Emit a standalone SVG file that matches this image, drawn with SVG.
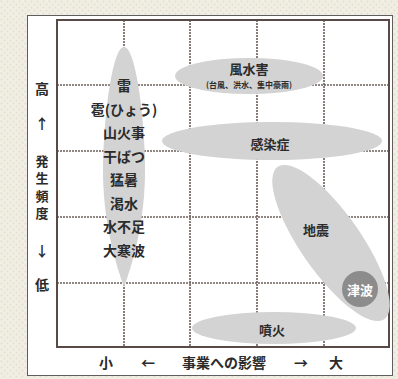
<svg xmlns="http://www.w3.org/2000/svg" width="398" height="379" viewBox="0 0 398 379">
<defs>
<pattern id="dots" width="6" height="6" patternUnits="userSpaceOnUse">
<rect width="6" height="6" fill="#f1eee3"/>
<circle cx="1.5" cy="1.5" r="1" fill="#e4e0d0"/>
<circle cx="4.5" cy="4.5" r="1" fill="#e4e0d0"/>
</pattern>
<style>
.grid{stroke:#6b5d58;stroke-width:1.6;stroke-dasharray:2 1;fill:none}
.blob{fill:#d3d3d3}
.t{font-family:"Noto Sans CJK JP","Noto Sans CJK SC",sans-serif;font-weight:bold;fill:#2b2b2b;text-anchor:middle;dominant-baseline:central}
.s14{font-size:14px}
.s13{font-size:13px}
.v{font-size:13px}
</style>
</defs>
<rect width="398" height="379" fill="url(#dots)"/>
<rect x="27.5" y="15.5" width="365" height="360" fill="#ffffff" stroke="#5e5e5e" stroke-width="1"/>
<g id="grid">
<path class="grid" d="M124,20V347M190,20V347M257,20V347M324,20V347M57,85H389M57,151H389M57,217H389M57,283H389"/>
</g>
<rect x="57" y="20" width="332" height="327" fill="none" stroke="#5a4a47" stroke-width="2"/>
<g id="weather">
<path class="blob" d="M124,47 C113,47 104,110 103,165 C102,222 117,268 124,287 C131,268 146,222 145,165 C144,110 135,47 124,47 Z"/>
<text class="t s14" x="124" y="85">雷</text>
<text class="t s14" x="124" y="108.5">雹(ひょう)</text>
<text class="t s14" x="124" y="132">山火事</text>
<text class="t s14" x="124" y="155.5">干ばつ</text>
<text class="t s14" x="124" y="179">猛暑</text>
<text class="t s14" x="124" y="202.5">渇水</text>
<text class="t s14" x="124" y="226">水不足</text>
<text class="t s14" x="124" y="249.5">大寒波</text>
</g>
<g id="fusuigai">
<ellipse class="blob" cx="249" cy="76" rx="74" ry="18"/>
<text class="t s13" x="249" y="68">風水害</text>
<text class="t" x="249" y="84" font-size="8">(台風、洪水、集中豪雨)</text>
</g>
<g id="kansensho">
<ellipse class="blob" cx="272" cy="141" rx="110" ry="19"/>
<text class="t s13" x="270" y="143">感染症</text>
</g>
<g id="jishin">
<ellipse class="blob" cx="331" cy="243" rx="93" ry="30" transform="rotate(55 331 243)"/>
<text class="t s13" x="316" y="229">地震</text>
</g>
<g id="tsunami">
<circle cx="360" cy="289" r="18" fill="#8c8c8c"/>
<text class="t s13" x="360" y="289" style="fill:#ffffff">津波</text>
</g>
<g id="funka">
<ellipse class="blob" cx="274" cy="328" rx="82" ry="16"/>
<text class="t s13" x="272" y="329">噴火</text>
</g>
<g id="yaxis">
<text class="t s14" x="42" y="88">高</text>
<text class="t s14" x="42" y="123">↑</text>
<text class="t v" x="42" y="160">発</text>
<text class="t v" x="42" y="177.5">生</text>
<text class="t v" x="42" y="195">頻</text>
<text class="t v" x="42" y="212.5">度</text>
<text class="t s14" x="42" y="250">↓</text>
<text class="t s14" x="42" y="284">低</text>
</g>
<g id="xaxis">
<text class="t s14" x="106" y="362">小</text>
<text class="t s14" x="148" y="362">←</text>
<text class="t s14" x="224" y="362">事業への影響</text>
<text class="t s14" x="301" y="362">→</text>
<text class="t s14" x="336" y="362">大</text>
</g>
</svg>
